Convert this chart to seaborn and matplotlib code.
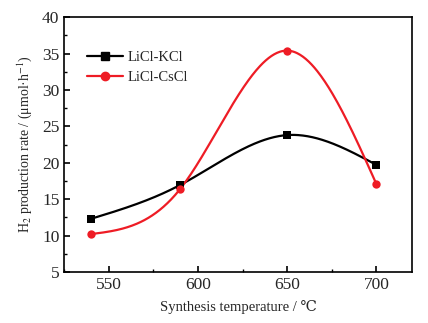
import numpy as np
import pandas as pd
import matplotlib
matplotlib.use("Agg")
import matplotlib.pyplot as plt
import seaborn as sns
from matplotlib.ticker import MultipleLocator

temps = [540, 590, 650, 700]
kcl = [12.3, 16.95, 23.8, 19.7]
cscl = [10.2, 16.4, 35.4, 17.05]
series_names = ["LiCl-KCl", "LiCl-CsCl"]
colors = ["#000000", "#ee1c25"]
markers = ["s", "o"]

sns.set_theme(style="ticks")
plt.rcParams['font.family'] = ['Liberation Serif', 'DejaVu Serif']
plt.rcParams['mathtext.fontset'] = 'stix'


def natural_spline(x, y, n=300):
    x = np.asarray(x, float); y = np.asarray(y, float)
    k = len(x) - 1
    h = np.diff(x)
    A = np.zeros((k + 1, k + 1)); b = np.zeros(k + 1)
    A[0, 0] = 1; A[k, k] = 1
    for i in range(1, k):
        A[i, i - 1] = h[i - 1]; A[i, i] = 2 * (h[i - 1] + h[i]); A[i, i + 1] = h[i]
        b[i] = 6 * ((y[i + 1] - y[i]) / h[i] - (y[i] - y[i - 1]) / h[i - 1])
    M = np.linalg.solve(A, b)
    xs = np.linspace(x[0], x[-1], n)
    ys = np.empty_like(xs)
    for j, t in enumerate(xs):
        i = min(np.searchsorted(x, t, side='right') - 1, k - 1)
        a = x[i + 1] - t; c = t - x[i]
        ys[j] = (M[i] * a**3 + M[i + 1] * c**3) / (6 * h[i]) + \
            (y[i] / h[i] - M[i] * h[i] / 6) * a + (y[i + 1] / h[i] - M[i + 1] * h[i] / 6) * c
    return xs, ys


fig, ax = plt.subplots(figsize=(4.28, 3.23), dpi=100)
fig.subplots_adjust(left=0.15, right=0.963, top=0.947, bottom=0.158)

for name, vals, col, mk in zip(series_names, [kcl, cscl], colors, markers):
    xs, ys = natural_spline(temps, vals)
    sns.lineplot(x=xs, y=ys, ax=ax, color=col, lw=1.6, legend=False)
    sns.scatterplot(x=temps, y=vals, ax=ax, color=col, marker=mk, s=36,
                    edgecolor=col, linewidth=0, legend=False, zorder=3)
    ax.plot([], [], color=col, marker=mk, ms=6, lw=1.6, label=name)

ax.set_xlim(525, 720)
ax.set_ylim(5, 40)
ax.xaxis.set_major_locator(MultipleLocator(50))
ax.xaxis.set_minor_locator(MultipleLocator(25))
ax.yaxis.set_major_locator(MultipleLocator(5))
ax.yaxis.set_minor_locator(MultipleLocator(2.5))
ax.tick_params(which='both', direction='in', top=False, right=False, labelsize=12.5, color='black')
ax.tick_params(which='major', length=4, width=1.2)
ax.tick_params(which='minor', length=2.5, width=1.0)
for s in ax.spines.values():
    s.set_linewidth(1.2)
    s.set_color('black')

ax.set_xlabel("Synthesis temperature / ℃", fontsize=10.5, labelpad=5)
ax.set_ylabel("H$_2$ production rate / (μmol·h$^{-1}$)", fontsize=10, labelpad=6)

ax.legend(loc='upper left', bbox_to_anchor=(0.048, 0.89), frameon=False, fontsize=10.5,
          handlelength=2.5, handletextpad=0.3, labelspacing=0.45, borderaxespad=0)

fig.savefig("out.png", dpi=100)
